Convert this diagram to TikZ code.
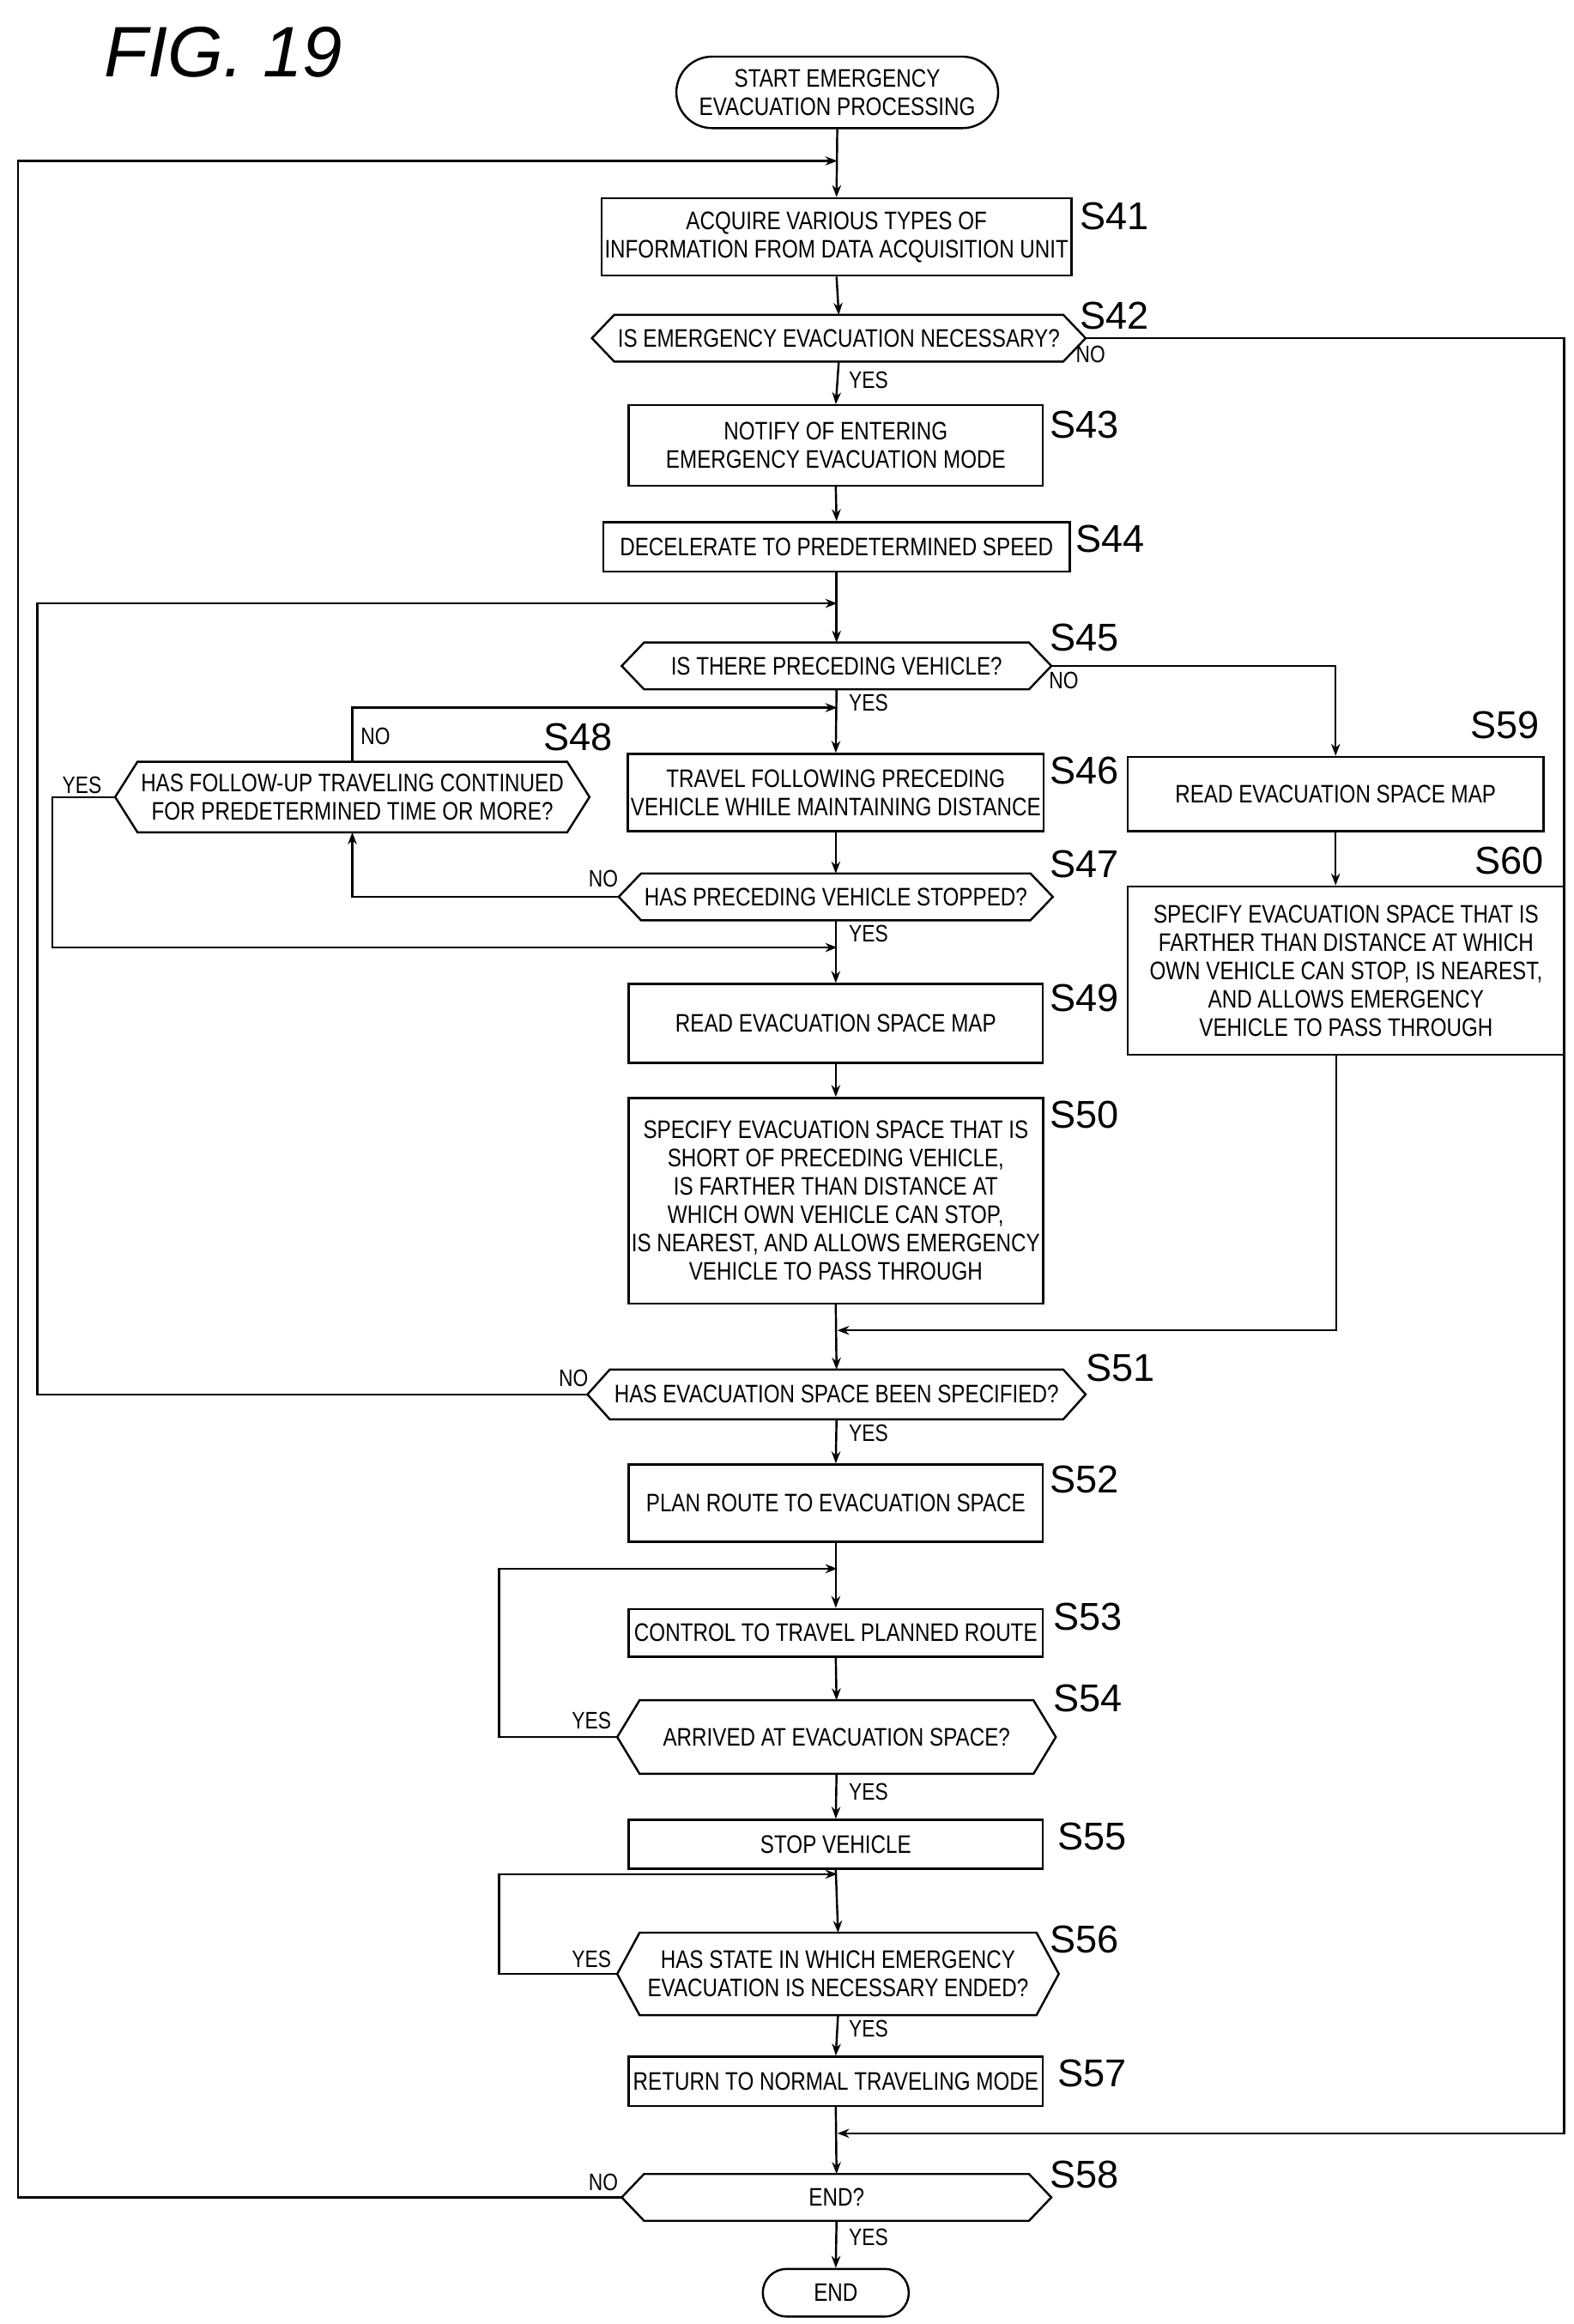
\documentclass[tikz,border=0pt]{standalone}
\usepackage{fontspec}
\setmainfont{Liberation Sans}[FakeStretch=0.82]
\newfontfamily\lab{Liberation Sans}
\usetikzlibrary{shapes.misc,arrows.meta}
\newcommand\hexd[1]{\draw (#1.west)--([xshift=7.5pt]#1.north west)--([xshift=-7.5pt]#1.north east)--(#1.east)--([xshift=-7.5pt]#1.south east)--([xshift=7.5pt]#1.south west)--cycle;}
\begin{document}
\begin{tikzpicture}[x=0.5pt,y=-0.5pt,line width=0.7pt,
 box/.style={draw,inner sep=1pt,align=center,font=\fontsize{8.5}{9.5}\selectfont},
 hx/.style={inner sep=1pt,align=center,font=\fontsize{8.5}{9.5}\selectfont},
 term/.style={draw,rounded rectangle,inner sep=1pt,align=center,font=\fontsize{8.5}{9.5}\selectfont},
 sl/.style={font=\lab\fontsize{13}{13}\selectfont},
 yn/.style={font=\fontsize{8}{8}\selectfont},
 ar/.style={-{Stealth[length=4pt,width=3pt]}}]
\useasboundingbox (0,0) rectangle (1056,1560);
\node[font=\lab\itshape\fontsize{24}{24}\selectfont] (fig) at (150,35) {FIG. 19};
\node[term,minimum width=110pt,minimum height=24pt] (start) at (562,62) {START EMERGENCY\\EVACUATION PROCESSING};
\node[box,minimum width=156.5pt,minimum height=26pt] (s41) at (561.5,159) {ACQUIRE VARIOUS TYPES OF\\INFORMATION FROM DATA ACQUISITION UNIT};
\node[hx,minimum width=165pt,minimum height=15pt] (s42) at (563,227) {IS EMERGENCY EVACUATION NECESSARY?}; \hexd{s42}
\node[box,minimum width=139pt,minimum height=27pt] (s43) at (561,299) {NOTIFY OF ENTERING\\EMERGENCY EVACUATION MODE};
\node[box,minimum width=156.5pt,minimum height=16.5pt] (s44) at (561.5,367) {DECELERATE TO PREDETERMINED SPEED};
\node[hx,minimum width=143.5pt,minimum height=15pt] (s45) at (561.5,447) {IS THERE PRECEDING VEHICLE?}; \hexd{s45}
\node[box,minimum width=139pt,minimum height=26pt] (s46) at (561,532) {TRAVEL FOLLOWING PRECEDING\\VEHICLE WHILE MAINTAINING DISTANCE};
\node[hx,minimum width=158.5pt,minimum height=23pt] (s48) at (236.5,535) {HAS FOLLOW-UP TRAVELING CONTINUED\\FOR PREDETERMINED TIME OR MORE?}; \hexd{s48}
\node[hx,minimum width=145pt,minimum height=15pt] (s47) at (561,602) {HAS PRECEDING VEHICLE STOPPED?}; \hexd{s47}
\node[box,minimum width=139pt,minimum height=26.5pt] (s49) at (561,687) {READ EVACUATION SPACE MAP};
\node[box,minimum width=139pt,minimum height=69pt] (s50) at (561,806) {SPECIFY EVACUATION SPACE THAT IS\\SHORT OF PRECEDING VEHICLE,\\IS FARTHER THAN DISTANCE AT\\WHICH OWN VEHICLE CAN STOP,\\IS NEAREST, AND ALLOWS EMERGENCY\\VEHICLE TO PASS THROUGH};
\node[box,minimum width=139.5pt,minimum height=25pt] (s59) at (896.5,533) {READ EVACUATION SPACE MAP};
\node[box,minimum width=146.5pt,minimum height=56.5pt] (s60) at (903.5,651.5) {SPECIFY EVACUATION SPACE THAT IS\\FARTHER THAN DISTANCE AT WHICH\\OWN VEHICLE CAN STOP, IS NEAREST,\\AND ALLOWS EMERGENCY\\VEHICLE TO PASS THROUGH};
\node[hx,minimum width=166.5pt,minimum height=16pt] (s51) at (561.5,936) {HAS EVACUATION SPACE BEEN SPECIFIED?}; \hexd{s51}
\node[box,minimum width=139pt,minimum height=26pt] (s52) at (561,1009) {PLAN ROUTE TO EVACUATION SPACE};
\node[box,minimum width=139pt,minimum height=16pt] (s53) at (561,1096) {CONTROL TO TRAVEL PLANNED ROUTE};
\node[hx,minimum width=146.5pt,minimum height=24pt] (s54) at (561.5,1166) {ARRIVED AT EVACUATION SPACE?}; \hexd{s54}
\node[box,minimum width=139pt,minimum height=16.5pt] (s55) at (561,1238) {STOP VEHICLE};
\node[hx,minimum width=147.5pt,minimum height=27pt] (s56) at (562.5,1325) {HAS STATE IN WHICH EMERGENCY\\EVACUATION IS NECESSARY ENDED?}; \hexd{s56}
\node[box,minimum width=139pt,minimum height=16.5pt] (s57) at (561,1397) {RETURN TO NORMAL TRAVELING MODE};
\node[hx,minimum width=143.5pt,minimum height=15pt] (s58) at (561.5,1475) {END?}; \hexd{s58}
\node[term,minimum width=51pt,minimum height=16pt] (end) at (561,1539) {END};
% step labels
\node[sl] (l41) at (748,145) {S41};
\node[sl] (l42) at (748,212) {S42};
\node[sl] (l43) at (728,285) {S43};
\node[sl] (l44) at (745,362) {S44};
\node[sl] (l45) at (728,428) {S45};
\node[sl] (l46) at (728,517) {S46};
\node[sl] (l47) at (728,580) {S47};
\node[sl] (l48) at (388,495) {S48};
\node[sl] (l49) at (728,670) {S49};
\node[sl] (l50) at (728,748) {S50};
\node[sl] (l51) at (752,918) {S51};
\node[sl] (l52) at (728,993) {S52};
\node[sl] (l53) at (730,1085) {S53};
\node[sl] (l54) at (730,1140) {S54};
\node[sl] (l55) at (733,1233) {S55};
\node[sl] (l56) at (728,1302) {S56};
\node[sl] (l57) at (733,1392) {S57};
\node[sl] (l58) at (728,1460) {S58};
\node[sl] (l59) at (1010,487) {S59};
\node[sl] (l60) at (1013,578) {S60};
% yes/no
\node[yn] (y42) at (583,255) {YES}; \node[yn] (n42) at (732,238) {NO};
\node[yn] (y45) at (583,472) {YES}; \node[yn] (n45) at (714,457) {NO};
\node[yn] (y48) at (55,527) {YES}; \node[yn] (n48) at (252,494) {NO};
\node[yn] (n47) at (405,590) {NO}; \node[yn] (y47) at (583,627) {YES};
\node[yn] (n51) at (385,925) {NO}; \node[yn] (y51) at (583,962) {YES};
\node[yn] (y54s) at (397,1155) {YES}; \node[yn] (y54) at (583,1203) {YES};
\node[yn] (y56s) at (397,1315) {YES}; \node[yn] (y56) at (583,1362) {YES};
\node[yn] (n58) at (405,1465) {NO}; \node[yn] (y58) at (583,1502) {YES};
% junctions
\coordinate (j1) at (562,108); \coordinate (j2) at (562,405);
\coordinate (j3) at (562,475); \coordinate (j4) at (562,636);
\coordinate (j5) at (562,893); \coordinate (j6) at (562,1053);
\coordinate (j7) at (562,1258); \coordinate (j8) at (562,1432);
\coordinate (c1) at (12,1475); \coordinate (c2) at (12,108);
\coordinate (c3) at (25,936); \coordinate (c4) at (25,405);
\coordinate (c5) at (35,535); \coordinate (c6) at (35,636);
\coordinate (c7) at (236.5,602);
\coordinate (c8) at (897,708); \coordinate (c9) at (897,893);
\coordinate (c10) at (335,1166); \coordinate (c11) at (335,1053);
\coordinate (c12) at (335,1325); \coordinate (c13) at (335,1258);
\coordinate (c14) at (1050,227); \coordinate (c15) at (1050,1432);
% main flow
\foreach \a/\b in {start/s41,s41/s42,s42/s43,s43/s44,s44/s45,s45/s46,s46/s47,s47/s49,s49/s50,s50/s51,s51/s52,s52/s53,s53/s54,s54/s55,s55/s56,s56/s57,s57/s58,s58/end}
  \draw[ar] (\a.south) -- (\b.north);
\draw[ar] (s58.west) -- (c1) -- (c2) -- (j1);
\draw[ar] (s51.west) -- (c3) -- (c4) -- (j2);
\draw[ar] (s48.north) |- (j3);
\draw[ar] (s48.west) -- (c5) -- (c6) -- (j4);
\draw[ar] (s47.west) -- (c7) -- (s48.south);
\draw[ar] (s45.east) -| (s59.north);
\draw[ar] (s59.south) -- (s59.south |- s60.north);
\draw[ar] (c8) -- (c9) -- (j5);
\draw[ar] (s54.west) -- (c10) -- (c11) -- (j6);
\draw[ar] (s56.west) -- (c12) -- (c13) -- (j7);
\draw[ar] (s42.east) -- (c14) -- (c15) -- (j8);
\end{tikzpicture}
\end{document}
